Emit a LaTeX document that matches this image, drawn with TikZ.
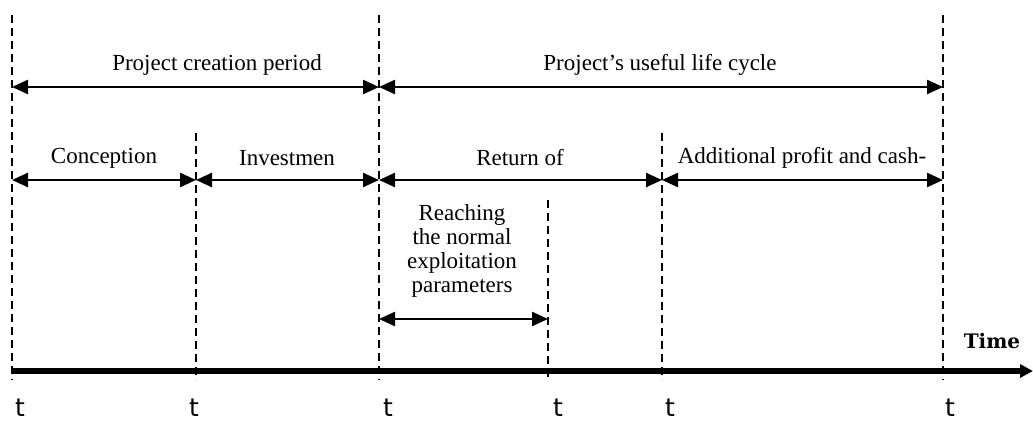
\documentclass[tikz,border=0pt]{standalone}
\usepackage{fontspec}
\setmainfont{Liberation Serif}
\newfontfamily\tfont{DejaVu Sans}
\newfontfamily\timefont{DejaVu Serif}
\usetikzlibrary{arrows.meta}
\begin{document}
\begin{tikzpicture}[x=1pt,y=-1pt,
  vline/.style={line width=1.8pt,dash pattern=on 8pt off 5pt},
  span/.style={line width=2.4pt,{Triangle[length=16pt,width=14pt]}-{Triangle[length=16pt,width=14pt]}},
  lab/.style={font=\fontsize{23}{23}\selectfont,inner sep=0pt},
  tlab/.style={font=\tfont\fontsize{25}{25}\selectfont,inner sep=0pt}]
\useasboundingbox (0,0) rectangle (1033,423);
% vertical dashed lines
\coordinate (a0) at (12,15);   \coordinate (b0) at (12,380);
\coordinate (a1) at (196,133); \coordinate (b1) at (196,380);
\coordinate (a2) at (379,15);  \coordinate (b2) at (379,380);
\coordinate (a3) at (548,200); \coordinate (b3) at (548,380);
\coordinate (a4) at (662,133); \coordinate (b4) at (662,380);
\coordinate (a5) at (943,15);  \coordinate (b5) at (943,380);
\foreach \i in {0,...,5} \draw[vline] (a\i) -- (b\i);
% top spans
\coordinate (p0) at (12,87); \coordinate (p2) at (379,87); \coordinate (p5) at (943,87);
\draw[span] (p0) -- (p2);
\draw[span] (p2) -- (p5);
\node[lab] (l1) at (217,65) {Project creation period};
\node[lab] (l2) at (660,65) {Project’s useful life cycle};
% second row
\coordinate (q0) at (12,180); \coordinate (q1) at (196,180); \coordinate (q2) at (379,180);
\coordinate (q4) at (662,180); \coordinate (q5) at (943,180);
\draw[span] (q0) -- (q1);
\draw[span] (q1) -- (q2);
\draw[span] (q2) -- (q4);
\draw[span] (q4) -- (q5);
\node[lab] (c1) at (104,158) {Conception};
\node[lab] (c2) at (287,158) {Investmen};
\node[lab] (c3) at (520,158) {Return of};
\node[lab] (c4) at (802,158) {Additional profit and cash-};
% reaching
\coordinate (r0) at (379,319); \coordinate (r1) at (548,319);
\draw[span] (r0) -- (r1);
\node[lab,align=center,font=\fontsize{23}{24}\selectfont] (rl) at (462,251) {Reaching\\the normal\\exploitation\\parameters};
% time axis
\coordinate (t0) at (12,371); \coordinate (t1) at (1033,371);
\draw[line width=5.5pt,-{Triangle[length=13pt,width=13pt]}] (t0) -- (t1);
\node[font=\timefont\bfseries\fontsize{20}{20}\selectfont,inner sep=0pt] (time) at (992,341) {Time};
% t labels
\node[tlab] (t_0) at (20,408) {t};
\node[tlab] (t_1) at (194,408) {t};
\node[tlab] (t_2) at (388,408) {t};
\node[tlab] (t_3) at (558,408) {t};
\node[tlab] (t_4) at (670,408) {t};
\node[tlab] (t_5) at (950,408) {t};
\end{tikzpicture}
\end{document}
